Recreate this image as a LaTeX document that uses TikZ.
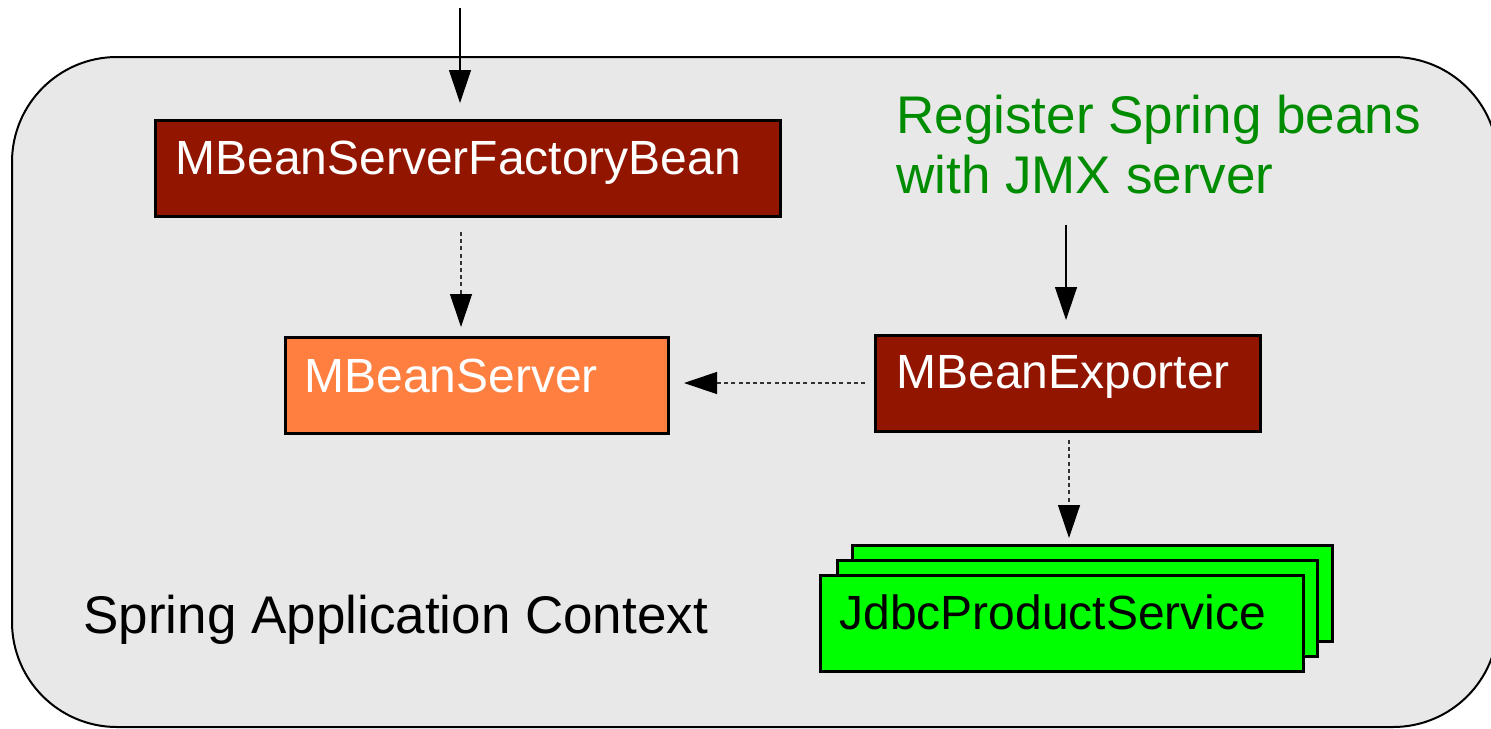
\documentclass[tikz,border=0pt]{standalone}
\usepackage{fontspec}
\setmainfont{Liberation Sans}
\usetikzlibrary{arrows.meta,calc}
\definecolor{ctxgray}{RGB}{232,232,232}
\definecolor{beanred}{RGB}{146,21,0}
\definecolor{serverorange}{RGB}{255,127,64}
\definecolor{servicegreen}{RGB}{0,255,0}
\definecolor{notegreen}{RGB}{0,140,0}
\begin{document}
\begin{tikzpicture}[x=0.5pt,y=-0.5pt,
  box/.style={draw=black,line width=1.5pt,inner sep=0pt,outer sep=0pt,
    anchor=north west,minimum height=48pt},
  boxtext/.style={anchor=base west,inner sep=0pt,font=\fontsize{24}{28}\selectfont},
  bigtext/.style={anchor=base west,inner sep=0pt,font=\fontsize{26.5}{30}\selectfont},
  solidlink/.style={-{Triangle[length=16.5pt,width=11pt,black]},line width=0.6pt},
  deplink/.style={-{Triangle[length=16.5pt,width=11pt,black]},line width=0.6pt,
    draw=black!80,dash pattern=on 2pt off 1.6pt}]
\useasboundingbox (0,0) rectangle (1491,728);

% application context frame (runs off the right edge)
\begin{scope}
  \clip (0,0) rectangle (1491,728);
  \draw[fill=ctxgray,line width=1pt,rounded corners=52.5pt] (12,57) rectangle (1498,727);
\end{scope}

% beans
\node[box,fill=beanred,minimum width=312.5pt] (fbean) at (155,120) {};
\node[boxtext,text=white] (fbeantxt) at (175,174) {MBeanServerFactoryBean};

\node[box,fill=serverorange,minimum width=191.5pt] (server) at (285,337) {};
\node[boxtext,text=white] (servertxt) at (304,392) {MBeanServer};

\node[box,fill=beanred,minimum width=192.5pt] (exporter) at (875,335) {};
\node[boxtext,text=white] (exportertxt) at (896,388) {MBeanExporter};

\node[box,fill=servicegreen,minimum width=240pt] (jdbc3) at (852,545) {};
\node[box,fill=servicegreen,minimum width=240pt] (jdbc2) at (837,560) {};
\node[box,fill=servicegreen,minimum width=241.5pt] (jdbc1) at (820,575) {};
\node[boxtext,text=black] (jdbctxt) at (839,629) {JdbcProductService};

% labels (a multi-line node sits on the baseline of its last line)
\node[bigtext,text=black] (ctxlabel) at (83,633) {Spring Application Context};
\node[bigtext,text=notegreen,align=left] (note) at (896,193) {Register Spring beans\\with JMX server};

% connectors
\coordinate (entry) at (460,8);
\draw[solidlink,shorten >=8.5pt] (entry) -- (fbean.north -| entry);

\coordinate (noteend) at (1066,225);
\draw[solidlink,shorten >=7.5pt] (noteend) -- (exporter.north -| noteend);

\coordinate (fsx) at (461,0);
\draw[deplink,shorten <=8pt,shorten >=5pt] (fbean.south -| fsx) -- (server.north -| fsx);

\coordinate (esy) at (0,383);
\draw[deplink,shorten <=5pt,shorten >=8pt] (exporter.west |- esy) -- (server.east |- esy);

\coordinate (jsx) at (1069,0);
\draw[deplink,shorten <=4.5pt,shorten >=3.5pt] (exporter.south -| jsx) -- (jdbc3.north -| jsx);
\end{tikzpicture}
\end{document}
